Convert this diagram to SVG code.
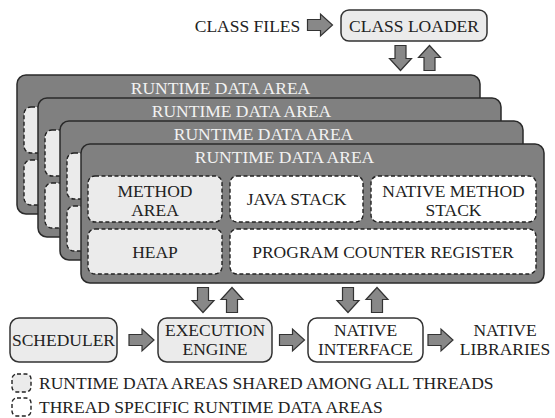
<svg xmlns="http://www.w3.org/2000/svg" xmlns:xlink="http://www.w3.org/1999/xlink" width="555" height="418" viewBox="0 0 555 418" font-family="'Liberation Serif', 'DejaVu Serif', 'Times New Roman', serif">
<style>
text{font-family:'Liberation Serif','DejaVu Serif','Times New Roman',serif;font-size:17.5px;fill:#222;text-anchor:middle}
.title{fill:#f2f2f2}
.left{text-anchor:start}
.layer{fill:#808080;stroke:#2a2a2a;stroke-width:1.5}
.shared{fill:#ebebeb;stroke:#222;stroke-width:1.4;stroke-dasharray:4 2.5}
.thread{fill:#fff;stroke:#222;stroke-width:1.4;stroke-dasharray:4 2.5}
.box{stroke:#333;stroke-width:1.5}
.grey{fill:#ebebeb}
.white{fill:#fff}
.arrow{fill:#888;stroke:#333;stroke-width:1.2;stroke-linejoin:miter}
</style>
<defs>
<path id="arr" d="M-12.5,-5.5 H0.5 V-11 L12.5,0 L0.5,11 V5.5 H-12.5 Z"/>
</defs>

<g id="class-files"><text x="247.5" y="32" font-family="Liberation Serif, serif">CLASS FILES</text></g>
<g id="class-loader"><rect class="box grey" x="341" y="10" width="146" height="31" rx="8"/><text x="414" y="32">CLASS LOADER</text></g>

<g id="runtime-area-1">
<rect class="layer" x="17" y="75" width="463" height="139" rx="9"/>
<text class="title" x="220.5" y="94">RUNTIME DATA AREA</text>
<rect class="shared" x="24" y="107" width="134" height="46" rx="7"/>
<rect class="shared" x="24" y="160" width="134" height="45" rx="7"/>
</g>
<g id="runtime-area-2">
<rect class="layer" x="38" y="98" width="463" height="139" rx="9"/>
<text class="title" x="241.5" y="117">RUNTIME DATA AREA</text>
<rect class="shared" x="45" y="130" width="134" height="46" rx="7"/>
<rect class="shared" x="45" y="183" width="134" height="45" rx="7"/>
</g>
<g id="runtime-area-3">
<rect class="layer" x="60" y="121" width="463" height="139" rx="9"/>
<text class="title" x="263.5" y="140">RUNTIME DATA AREA</text>
<rect class="shared" x="67" y="153" width="134" height="46" rx="7"/>
<rect class="shared" x="67" y="206" width="134" height="45" rx="7"/>
</g>
<g id="runtime-area-4">
<rect class="layer" x="81" y="144" width="463" height="139" rx="9"/>
<text class="title" x="284.5" y="163">RUNTIME DATA AREA</text>
<g id="method-area"><rect class="shared" x="88" y="176" width="134" height="46" rx="7"/><text x="155" y="197">METHOD</text><text x="155" y="216">AREA</text></g>
<g id="java-stack"><rect class="thread" x="230" y="176" width="133" height="46" rx="7"/><text x="296.5" y="205">JAVA STACK</text></g>
<g id="native-method-stack"><rect class="thread" x="371" y="176" width="165" height="46" rx="7"/><text x="453.5" y="197">NATIVE METHOD</text><text x="453.5" y="216">STACK</text></g>
<g id="heap"><rect class="shared" x="88" y="229" width="134" height="45" rx="7"/><text x="155" y="258">HEAP</text></g>
<g id="pc-register"><rect class="thread" x="230" y="229" width="306" height="45" rx="7"/><text x="383" y="258">PROGRAM COUNTER REGISTER</text></g>
</g>

<g id="scheduler"><rect class="box grey" x="10" y="318" width="107" height="44" rx="9"/><text x="63.5" y="346">SCHEDULER</text></g>
<g id="execution-engine"><rect class="box grey" x="158" y="318" width="114" height="44" rx="9"/><text x="215" y="336">EXECUTION</text><text x="215" y="355">ENGINE</text></g>
<g id="native-interface"><rect class="box white" x="308" y="318" width="115" height="44" rx="9"/><text x="365.5" y="336">NATIVE</text><text x="365.5" y="355">INTERFACE</text></g>
<g id="native-libraries"><text x="505" y="336">NATIVE</text><text x="505" y="355">LIBRARIES</text></g>

<g id="connectors">
<use href="#arr" xlink:href="#arr" class="arrow" transform="translate(320,25)"/>
<use href="#arr" xlink:href="#arr" class="arrow" transform="translate(400.5,58) rotate(90)"/>
<use href="#arr" xlink:href="#arr" class="arrow" transform="translate(429.5,58) rotate(-90)"/>
<use href="#arr" xlink:href="#arr" class="arrow" transform="translate(203,300) rotate(90)"/>
<use href="#arr" xlink:href="#arr" class="arrow" transform="translate(232,300) rotate(-90)"/>
<use href="#arr" xlink:href="#arr" class="arrow" transform="translate(348,300) rotate(90)"/>
<use href="#arr" xlink:href="#arr" class="arrow" transform="translate(377,300) rotate(-90)"/>
<use href="#arr" xlink:href="#arr" class="arrow" transform="translate(141.5,340)"/>
<use href="#arr" xlink:href="#arr" class="arrow" transform="translate(292,340)"/>
<use href="#arr" xlink:href="#arr" class="arrow" transform="translate(440.5,340)"/>
</g>

<g id="legend">
<rect class="shared" x="12" y="374" width="19" height="18" rx="5"/>
<text class="left" x="39" y="389">RUNTIME DATA AREAS SHARED AMONG ALL THREADS</text>
<rect class="thread" x="12" y="398" width="19" height="18" rx="5"/>
<text class="left" x="39" y="413">THREAD SPECIFIC RUNTIME DATA AREAS</text>
</g>
</svg>
